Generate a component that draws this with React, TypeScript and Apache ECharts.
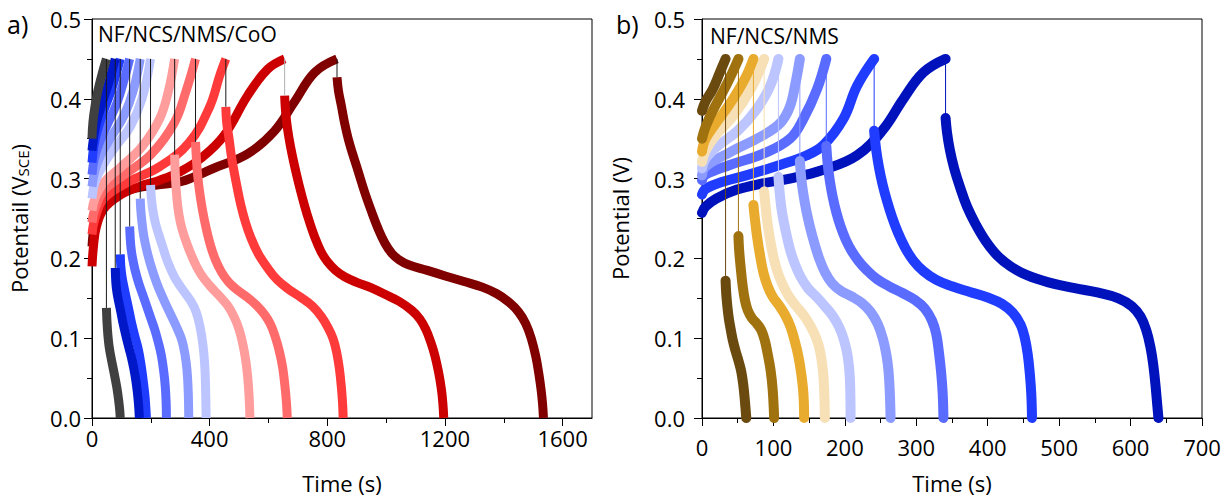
import React, { useEffect, useRef } from "react";
import * as echarts from "echarts";

// ---------- Panel a) NF/NCS/NMS/CoO ----------
const aColors = ["#404040", "#0018c8", "#1f3cff", "#5a6cff", "#8c9bff", "#bcc5ff", "#ff9c9c", "#ff6b6b", "#ff3a3a", "#cc0000", "#800000"];
const aLinkColors = ["#1a1a1a", "#1a1a1a", "#1a1a1a", "#1a1a1a", "#1a1a1a", "#1a1a1a", "#1a1a1a", "#1a1a1a", "#1a1a1a", "#b0b0b0", "#1a1a1a"];

const aCharge0 = [[0, 0.35], [3, 0.37], [10, 0.39], [20, 0.41], [35, 0.432], [49, 0.45]];
const aCharge1 = [[0, 0.335], [5, 0.35], [15, 0.37], [35, 0.395], [55, 0.418], [70, 0.438], [79, 0.45]];
const aCharge2 = [[0, 0.32], [6, 0.34], [18, 0.36], [40, 0.385], [65, 0.41], [85, 0.435], [96, 0.45]];
const aCharge3 = [[0, 0.305], [8, 0.325], [25, 0.345], [55, 0.37], [85, 0.395], [110, 0.425], [128, 0.45]];
const aCharge4 = [[0, 0.29], [10, 0.31], [30, 0.33], [70, 0.355], [110, 0.38], [140, 0.41], [164, 0.45]];
const aCharge5 = [[0, 0.275], [10, 0.295], [35, 0.315], [80, 0.34], [130, 0.365], [170, 0.4], [199, 0.45]];
const aCharge6 = [[0, 0.26], [10, 0.275], [40, 0.295], [100, 0.315], [170, 0.34], [230, 0.375], [260, 0.41], [281, 0.45]];
const aCharge7 = [[0, 0.245], [10, 0.262], [40, 0.285], [110, 0.305], [200, 0.33], [280, 0.37], [320, 0.41], [352, 0.45]];
const aCharge8 = [[0, 0.23], [10, 0.25], [40, 0.275], [120, 0.295], [230, 0.315], [330, 0.345], [400, 0.39], [435, 0.43], [455, 0.45]];
const aCharge9 = [[0, 0.19], [5, 0.215], [15, 0.24], [40, 0.262], [90, 0.278], [160, 0.29], [230, 0.298], [301, 0.309], [369, 0.325], [449, 0.354], [529, 0.404], [597, 0.437], [655, 0.45]];
const aCharge10 = [[0, 0.215], [10, 0.245], [30, 0.265], [80, 0.28], [150, 0.288], [220, 0.292], [301, 0.296], [414, 0.313], [529, 0.331], [619, 0.359], [688, 0.396], [757, 0.433], [833, 0.45]];

const aDis0 = [[49, 0.138], [51, 0.12], [54, 0.104], [58, 0.09], [64, 0.077], [71, 0.064], [78, 0.051], [85, 0.037], [90, 0.024], [94, 0.011], [96, 0]];
const aDis1 = [[79, 0.188], [81, 0.17], [85, 0.157], [90, 0.147], [98, 0.133], [106, 0.118], [114, 0.105], [124, 0.09], [134, 0.076], [142, 0.062], [149, 0.047], [154, 0.033], [158, 0.018], [161, 0]];
const aDis2 = [[96, 0.205], [98, 0.19], [102, 0.177], [107, 0.167], [115, 0.153], [124, 0.138], [134, 0.12], [146, 0.102], [158, 0.085], [167, 0.066], [174, 0.047], [180, 0.028], [183, 0.013], [185, 0]];
const aDis3 = [[128, 0.24], [130, 0.225], [133, 0.212], [138, 0.2], [146, 0.186], [158, 0.17], [172, 0.155], [186, 0.14], [200, 0.125], [214, 0.11], [226, 0.094], [236, 0.078], [244, 0.058], [249, 0.04], [252, 0.02], [253, 0]];
const aDis4 = [[164, 0.275], [166, 0.26], [170, 0.245], [176, 0.228], [187, 0.209], [201, 0.19], [221, 0.168], [244, 0.148], [267, 0.13], [290, 0.112], [306, 0.097], [316, 0.08], [323, 0.06], [327, 0.035], [329, 0]];
const aDis5 = [[199, 0.292], [202, 0.275], [207, 0.26], [215, 0.245], [226, 0.231], [239, 0.216], [258, 0.195], [280, 0.177], [306, 0.162], [335, 0.147], [354, 0.133], [368, 0.113], [377, 0.092], [383, 0.068], [386, 0.04], [388, 0]];
const aDis6 = [[281, 0.33], [284, 0.3], [288, 0.278], [295, 0.256], [306, 0.237], [324, 0.217], [345, 0.198], [369, 0.181], [400, 0.166], [438, 0.151], [463, 0.14], [484, 0.126], [500, 0.111], [512, 0.094], [522, 0.074], [529, 0.053], [534, 0.028], [537, 0]];
const aDis7 = [[352, 0.346], [355, 0.325], [359, 0.305], [366, 0.283], [375, 0.262], [388, 0.238], [403, 0.216], [420, 0.198], [440, 0.183], [465, 0.17], [495, 0.16], [529, 0.151], [560, 0.141], [586, 0.13], [606, 0.118], [622, 0.103], [636, 0.085], [648, 0.064], [656, 0.04], [661, 0.02], [664, 0]];
const aDis8 = [[455, 0.39], [458, 0.37], [466, 0.35], [474, 0.328], [483, 0.309], [494, 0.288], [506, 0.267], [522, 0.245], [540, 0.226], [565, 0.206], [597, 0.188], [630, 0.173], [670, 0.161], [711, 0.151], [750, 0.14], [780, 0.127], [803, 0.113], [820, 0.099], [832, 0.082], [841, 0.062], [848, 0.038], [852, 0.018], [854, 0]];
const aDis9 = [[655, 0.404], [658, 0.385], [665, 0.362], [675, 0.34], [688, 0.317], [704, 0.292], [722, 0.267], [740, 0.245], [757, 0.227], [778, 0.209], [800, 0.196], [828, 0.185], [859, 0.177], [900, 0.17], [950, 0.163], [996, 0.155], [1045, 0.146], [1087, 0.135], [1115, 0.124], [1135, 0.111], [1152, 0.095], [1166, 0.078], [1178, 0.058], [1188, 0.036], [1193, 0.018], [1196, 0]];
const aDis10 = [[833, 0.427], [838, 0.41], [848, 0.391], [858, 0.371], [871, 0.35], [887, 0.33], [905, 0.309], [927, 0.283], [950, 0.259], [973, 0.237], [996, 0.219], [1020, 0.206], [1045, 0.198], [1076, 0.192], [1140, 0.185], [1201, 0.178], [1265, 0.171], [1327, 0.164], [1375, 0.156], [1418, 0.145], [1450, 0.133], [1475, 0.118], [1494, 0.099], [1509, 0.077], [1519, 0.056], [1527, 0.035], [1532, 0.017], [1535, 0]];

const aCharges = [aCharge0, aCharge1, aCharge2, aCharge3, aCharge4, aCharge5, aCharge6, aCharge7, aCharge8, aCharge9, aCharge10];
const aDischarges = [aDis0, aDis1, aDis2, aDis3, aDis4, aDis5, aDis6, aDis7, aDis8, aDis9, aDis10];

const aXTicks = [0, 400, 800, 1200, 1600];
const aXMinorTicks = [200, 600, 1000, 1400];

// ---------- Panel b) NF/NCS/NMS ----------
const bColors = ["#6b4a0f", "#a0720f", "#e8ab2e", "#f7e0b5", "#bcc5ff", "#8c9bff", "#5a6cff", "#1f3cff", "#0012bb"];

const bCharge0 = [[0, 0.385], [5, 0.397], [15, 0.412], [25, 0.433], [33, 0.45]];
const bCharge1 = [[0, 0.35], [5, 0.365], [15, 0.385], [30, 0.41], [42, 0.432], [51, 0.45]];
const bCharge2 = [[0, 0.334], [5, 0.35], [20, 0.37], [40, 0.395], [60, 0.425], [72, 0.45]];
const bCharge3 = [[0, 0.321], [5, 0.335], [20, 0.355], [45, 0.38], [70, 0.415], [87, 0.45]];
const bCharge4 = [[0, 0.313], [5, 0.325], [21, 0.34], [50, 0.36], [75, 0.385], [95, 0.415], [107, 0.45]];
const bCharge5 = [[0, 0.304], [5, 0.315], [39, 0.333], [85, 0.354], [110, 0.37], [123, 0.39], [131, 0.42], [137, 0.45]];
const bCharge6 = [[0, 0.298], [5, 0.305], [39, 0.317], [85, 0.331], [123, 0.35], [142, 0.375], [161, 0.412], [174, 0.45]];
const bCharge7 = [[0, 0.28], [5, 0.287], [29, 0.296], [62, 0.304], [109, 0.317], [146, 0.329], [170, 0.342], [198, 0.375], [217, 0.416], [241, 0.45]];
const bCharge8 = [[0, 0.257], [5, 0.265], [20, 0.275], [48, 0.286], [85, 0.294], [123, 0.3], [170, 0.311], [217, 0.329], [254, 0.362], [282, 0.4], [310, 0.433], [341, 0.45]];

const bDis0 = [[33, 0.172], [34, 0.155], [35.5, 0.14], [37.5, 0.125], [40, 0.112], [43, 0.098], [47, 0.084], [51, 0.072], [55, 0.058], [58, 0.04], [60, 0.022], [62, 0]];
const bDis1 = [[51, 0.228], [52, 0.21], [54, 0.19], [57, 0.165], [60, 0.148], [64, 0.135], [70, 0.125], [77, 0.118], [83, 0.11], [88, 0.097], [92, 0.08], [96, 0.06], [99, 0.035], [101, 0]];
const bDis2 = [[72, 0.267], [74, 0.25], [77, 0.228], [81, 0.205], [86, 0.182], [92, 0.165], [99, 0.152], [108, 0.141], [117, 0.128], [124, 0.114], [130, 0.096], [135, 0.077], [139, 0.055], [142, 0.03], [143, 0]];
const bDis3 = [[87, 0.284], [89, 0.265], [92, 0.242], [96, 0.22], [101, 0.198], [107, 0.18], [114, 0.165], [122, 0.152], [132, 0.14], [143, 0.128], [152, 0.115], [160, 0.1], [165, 0.085], [169, 0.062], [171, 0.035], [172, 0]];
const bDis4 = [[107, 0.302], [109, 0.28], [112, 0.258], [117, 0.235], [123, 0.212], [130, 0.193], [138, 0.177], [148, 0.163], [160, 0.152], [172, 0.14], [183, 0.128], [192, 0.114], [199, 0.097], [204, 0.077], [207, 0.05], [208, 0]];
const bDis5 = [[137, 0.322], [139, 0.3], [142, 0.28], [146, 0.26], [151, 0.24], [157, 0.22], [164, 0.2], [172, 0.183], [182, 0.169], [195, 0.159], [210, 0.152], [224, 0.144], [236, 0.133], [246, 0.118], [253, 0.1], [258, 0.08], [261, 0.06], [263, 0.03], [264, 0]];
const bDis6 = [[174, 0.341], [176, 0.318], [179, 0.297], [183, 0.277], [188, 0.258], [194, 0.24], [201, 0.224], [209, 0.21], [219, 0.197], [231, 0.185], [245, 0.174], [262, 0.165], [280, 0.157], [298, 0.148], [312, 0.137], [322, 0.122], [328, 0.105], [332, 0.08], [335, 0.055], [337, 0.03], [338, 0]];
const bDis7 = [[241, 0.36], [244, 0.335], [248, 0.313], [253, 0.292], [259, 0.272], [266, 0.252], [274, 0.233], [284, 0.214], [296, 0.197], [310, 0.184], [328, 0.173], [350, 0.165], [375, 0.158], [400, 0.151], [420, 0.143], [435, 0.132], [446, 0.117], [452, 0.1], [456, 0.08], [459, 0.055], [461, 0.03], [462, 0]];
const bDis8 = [[341, 0.376], [343, 0.358], [347, 0.336], [353, 0.313], [361, 0.29], [371, 0.265], [383, 0.243], [397, 0.222], [413, 0.204], [432, 0.19], [455, 0.179], [485, 0.17], [520, 0.163], [555, 0.157], [583, 0.15], [602, 0.14], [614, 0.127], [622, 0.11], [628, 0.088], [632, 0.065], [635, 0.04], [637, 0.02], [639, 0]];

const bCharges = [bCharge0, bCharge1, bCharge2, bCharge3, bCharge4, bCharge5, bCharge6, bCharge7, bCharge8];
const bDischarges = [bDis0, bDis1, bDis2, bDis3, bDis4, bDis5, bDis6, bDis7, bDis8];

const FONT = "'Open Sans', 'Noto Sans', sans-serif";
const TICK_FONT = 22;

function panelSeries(
  charges: number[][][],
  discharges: number[][][],
  colors: string[],
  linkColors: string[],
  xIndex: number,
  yIndex: number,
  width: number,
  cap: string
) {
  const out: any[] = [];
  for (let i = charges.length - 1; i >= 0; i--) {
    const common = {
      type: "line",
      xAxisIndex: xIndex,
      yAxisIndex: yIndex,
      symbol: "none",
      showSymbol: false,
      smooth: 0.4,
      silent: true,
      z: 2,
      clip: true,
      lineStyle: { color: colors[i], width, cap, join: "round" },
      emphasis: { disabled: true },
    };
    out.push({ ...common, name: "charge " + i, data: charges[i] });
    out.push({ ...common, name: "discharge " + i, data: discharges[i] });
  }
  for (let i = 0; i < charges.length; i++) {
    const c = charges[i];
    const d = discharges[i];
    out.push({
      type: "line",
      name: "link " + i,
      xAxisIndex: xIndex,
      yAxisIndex: yIndex,
      symbol: "none",
      silent: true,
      z: 3,
      data: [c[c.length - 1], d[0]],
      lineStyle: { color: linkColors[i], width: 1 },
      emphasis: { disabled: true },
    });
  }
  return out;
}

function yAxisBase(gridIndex: number, name: string, nameGap: number, labelMargin: number) {
  return {
    type: "value",
    gridIndex,
    min: 0,
    max: 0.5,
    interval: 0.1,
    name,
    nameLocation: "middle",
    nameRotate: 90,
    nameGap,
    nameTextStyle: {
      fontSize: 22,
      color: "#000",
      fontFamily: FONT,
      rich: {
        sub: { fontSize: 15, color: "#000", fontFamily: FONT, verticalAlign: "bottom", padding: [8, 0, 0, 0] },
      },
    },
    axisLine: { show: true, onZero: false, lineStyle: { color: "#000", width: 1 } },
    axisTick: { show: true, length: 8, lineStyle: { color: "#000" } },
    minorTick: { show: true, splitNumber: 2, length: 5, lineStyle: { color: "#000" } },
    axisLabel: {
      fontSize: TICK_FONT,
      color: "#000",
      fontFamily: FONT,
      margin: labelMargin,
      formatter: (v: number) => v.toFixed(1),
    },
    splitLine: { show: false },
    minorSplitLine: { show: false },
  };
}

export default function App() {
  const ref = useRef<HTMLDivElement>(null);
  useEffect(() => {
    if (!ref.current) return;
    const chart = echarts.init(ref.current, undefined, { renderer: "svg" });
    const option: any = {
      animation: false,
      backgroundColor: "#fff",
      grid: [
        { left: 92, top: 19, width: 500, height: 403, show: true, borderColor: "#000", borderWidth: 1, backgroundColor: "#fff" },
        { left: 702, top: 19, width: 500, height: 403, show: true, borderColor: "#000", borderWidth: 1, backgroundColor: "#fff" },
      ],
      xAxis: [
        {
          type: "value",
          gridIndex: 0,
          min: 0,
          max: 1700,
          name: "Time (s)",
          nameLocation: "middle",
          nameGap: 54,
          nameTextStyle: { fontSize: 22, color: "#000", fontFamily: FONT },
          axisLine: { show: true, onZero: false, lineStyle: { color: "#000", width: 1 } },
          axisTick: { show: true, length: 8, customValues: aXTicks, lineStyle: { color: "#000" } },
          axisLabel: {
            fontSize: TICK_FONT,
            color: "#000",
            fontFamily: FONT,
            margin: 9,
            customValues: aXTicks,
            formatter: (v: number) => String(v),
          },
          splitLine: { show: false },
        },
        {
          type: "value",
          gridIndex: 0,
          min: 0,
          max: 1700,
          position: "bottom",
          axisLine: { show: false, onZero: false },
          axisTick: { show: true, length: 5, customValues: aXMinorTicks, lineStyle: { color: "#000" } },
          axisLabel: { show: false },
          splitLine: { show: false },
        },
        {
          type: "value",
          gridIndex: 1,
          min: 0,
          max: 700,
          interval: 100,
          name: "Time (s)",
          nameLocation: "middle",
          nameGap: 54,
          nameTextStyle: { fontSize: 22, color: "#000", fontFamily: FONT },
          axisLine: { show: true, onZero: false, lineStyle: { color: "#000", width: 1 } },
          axisTick: { show: true, length: 8, lineStyle: { color: "#000" } },
          minorTick: { show: true, splitNumber: 2, length: 5, lineStyle: { color: "#000" } },
          axisLabel: { fontSize: TICK_FONT, color: "#000", fontFamily: FONT, margin: 18, formatter: (v: number) => String(v) },
          splitLine: { show: false },
          minorSplitLine: { show: false },
        },
      ],
      yAxis: [
        yAxisBase(0, "Potentail (V{sub|SCE})", 62, 11),
        yAxisBase(1, "Potential (V)", 71, 17),
      ],
      graphic: [
        { type: "text", left: 7, top: 11, style: { text: "a)", fontSize: 25, fill: "#000", fontFamily: FONT } },
        { type: "text", left: 616, top: 11, style: { text: "b)", fontSize: 25, fill: "#000", fontFamily: FONT } },
        { type: "text", left: 98, top: 23, style: { text: "NF/NCS/NMS/CoO", fontSize: 21, fill: "#000", fontFamily: FONT } },
        { type: "text", left: 710, top: 25, style: { text: "NF/NCS/NMS", fontSize: 21, fill: "#000", fontFamily: FONT } },
      ],
      series: [
        ...panelSeries(aCharges, aDischarges, aColors, aLinkColors, 0, 0, 9, "butt"),
        ...panelSeries(bCharges, bDischarges, bColors, bColors, 2, 1, 10, "round"),
      ],
    };
    chart.setOption(option);
    return () => chart.dispose();
  }, []);
  return (
    <div
      ref={ref}
      style={{ position: "fixed", left: 0, top: 0, width: 1224, height: 499, background: "#fff" }}
    />
  );
}
